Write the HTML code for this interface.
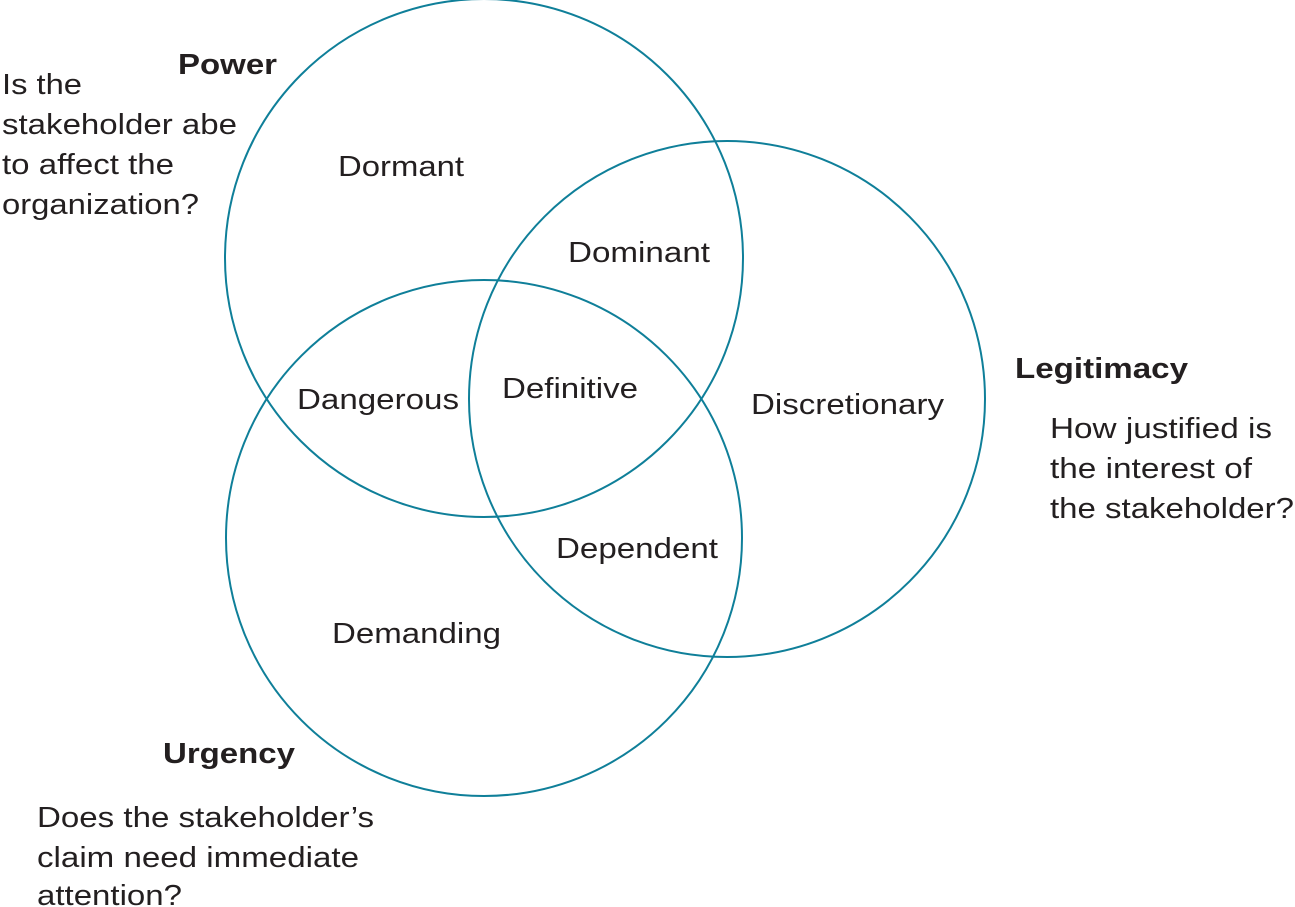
<!DOCTYPE html>
<html><head><meta charset="utf-8"><style>
html,body{margin:0;padding:0;background:#fff;}
svg{display:block;}
text{font-family:"Liberation Sans",Arial,sans-serif;font-size:29px;fill:#231f20;}
.b{font-weight:bold;}
</style></head><body>
<svg width="1295" height="907" viewBox="0 0 1295 907" xmlns="http://www.w3.org/2000/svg">
<g fill="none" stroke="#0f7f99" stroke-width="2">
<circle cx="484" cy="258" r="259"/>
<circle cx="727" cy="399" r="258"/>
<circle cx="484" cy="538" r="258"/>
</g>
<text class="b" x="178" y="74" textLength="99" lengthAdjust="spacingAndGlyphs">Power</text>
<text x="2" y="94" textLength="80" lengthAdjust="spacingAndGlyphs">Is the</text>
<text x="2" y="134" textLength="235" lengthAdjust="spacingAndGlyphs">stakeholder abe</text>
<text x="2" y="174" textLength="172" lengthAdjust="spacingAndGlyphs">to affect the</text>
<text x="2" y="214" textLength="197" lengthAdjust="spacingAndGlyphs">organization?</text>
<text x="338" y="176" textLength="126" lengthAdjust="spacingAndGlyphs">Dormant</text>
<text x="568" y="262" textLength="142" lengthAdjust="spacingAndGlyphs">Dominant</text>
<text x="297" y="409" textLength="162" lengthAdjust="spacingAndGlyphs">Dangerous</text>
<text x="502" y="398" textLength="136" lengthAdjust="spacingAndGlyphs">Definitive</text>
<text x="751" y="414" textLength="193" lengthAdjust="spacingAndGlyphs">Discretionary</text>
<text class="b" x="1015" y="378" textLength="173" lengthAdjust="spacingAndGlyphs">Legitimacy</text>
<text x="1050" y="438" textLength="222" lengthAdjust="spacingAndGlyphs">How justified is</text>
<text x="1050" y="478" textLength="202" lengthAdjust="spacingAndGlyphs">the interest of</text>
<text x="1050" y="518" textLength="244" lengthAdjust="spacingAndGlyphs">the stakeholder?</text>
<text x="556" y="558" textLength="162" lengthAdjust="spacingAndGlyphs">Dependent</text>
<text x="332" y="643" textLength="169" lengthAdjust="spacingAndGlyphs">Demanding</text>
<text class="b" x="163" y="763" textLength="132" lengthAdjust="spacingAndGlyphs">Urgency</text>
<text x="37" y="827" textLength="337" lengthAdjust="spacingAndGlyphs">Does the stakeholder’s</text>
<text x="37" y="867" textLength="322" lengthAdjust="spacingAndGlyphs">claim need immediate</text>
<text x="37" y="905" textLength="145" lengthAdjust="spacingAndGlyphs">attention?</text>
</svg>
</body></html>
